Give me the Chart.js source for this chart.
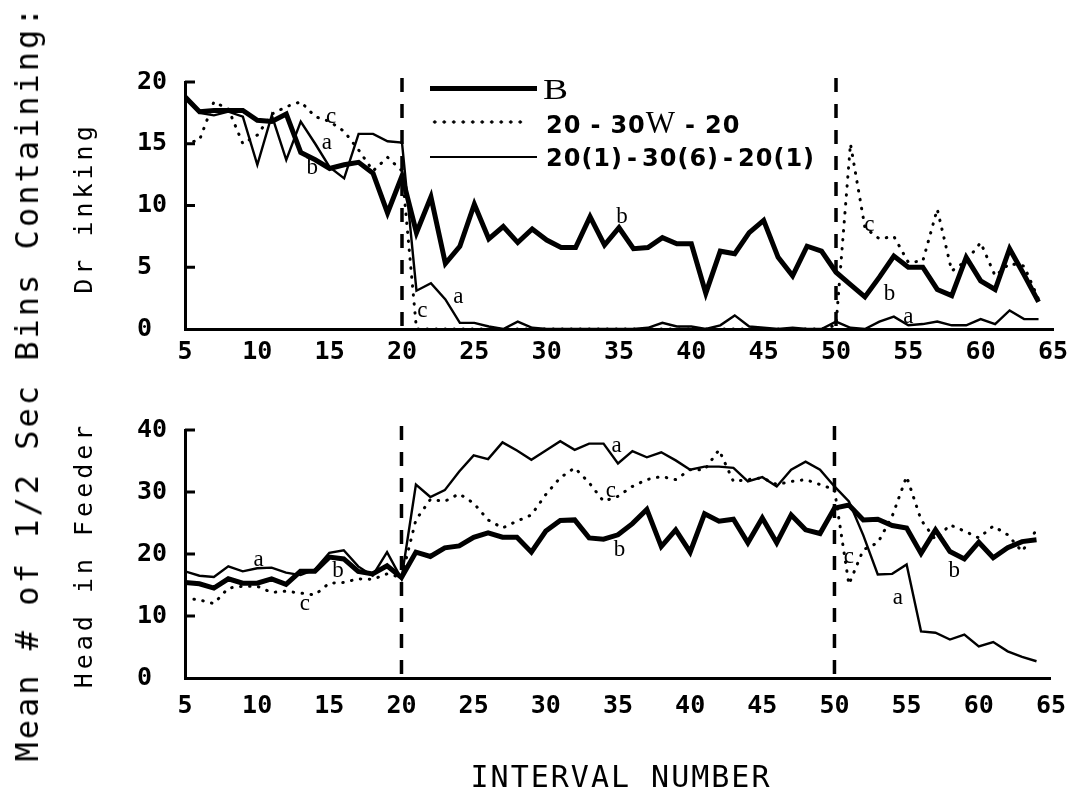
<!DOCTYPE html>
<html>
<head>
<meta charset="utf-8">
<script src="https://cdn.jsdelivr.net/npm/chart.js@4.4.1/dist/chart.umd.min.js"></script>
<style>
  body { margin: 0; background: #fff; }
  #wrap { position: relative; width: 1079px; height: 791px; overflow: hidden; background: #fff; }
  canvas { position: absolute; left: 0; }
  .rot {
    position: absolute; white-space: nowrap; color: #000;
    font-family: "DejaVu Sans Mono", monospace;
    transform: translate(-50%, -50%) rotate(-90deg);
  }
  .key { position: absolute; }
  .lab {
    position: absolute; white-space: nowrap; color: #000;
    font-family: "DejaVu Sans", sans-serif; font-weight: bold; font-size: 24px;
    transform: translateY(-50%); letter-spacing: 1px;
  }
  .lab .h { padding: 0 4px; }
  .lab .h2 { padding: 0 9px; }
  .lab .w { font-family: "Liberation Serif", serif; font-weight: normal; font-size: 31px; }
</style>
</head>
<body>
<div id="wrap">
  <canvas id="drink" width="1079" height="395" style="top:0"></canvas>
  <canvas id="feed" width="1079" height="396" style="top:395px"></canvas>

  <div class="rot" style="left:27px; top:383px; font-size:32px; letter-spacing:3px;">Mean # of 1/2 Sec Bins Containing:</div>
  <div class="rot" style="left:83px; top:208px; font-size:25px; letter-spacing:4px;">Dr inking</div>
  <div class="rot" style="left:83px; top:555px; font-size:25px; letter-spacing:4px;">Head in Feeder</div>
  <div style="position:absolute; left:621px; top:776px; transform:translate(-50%,-50%); font-family:'DejaVu Sans Mono',monospace; font-size:30px; letter-spacing:2px; white-space:nowrap;">INTERVAL NUMBER</div>

  <div class="key" style="left:430px; top:86px; width:107px; border-top:5px solid #000;"></div>
  <div class="lab" style="left:543px; top:89px; font-family:'Liberation Serif',serif; font-weight:normal; font-size:30px; transform:translateY(-50%) scaleX(1.25); transform-origin:left center;">B</div>
  <div class="key" style="left:430px; top:120px; width:96px; height:4px; background-image:radial-gradient(circle, #000 1.4px, transparent 1.9px); background-size:9.5px 4px;"></div>
  <div class="lab" style="left:546px; top:123px;">20<span class="h2">-</span>30<span class="w">W</span><span class="h2">-</span>20</div>
  <div class="key" style="left:430px; top:156px; width:107px; border-top:2.4px solid #000;"></div>
  <div class="lab" style="left:546px; top:158px;">20(1)<span class="h">-</span>30(6)<span class="h">-</span>20(1)</div>
</div>
<script>
// interval numbers on the x axis
const intervals = [5, 6, 7, 8, 9, 10, 11, 12, 13, 14, 15, 16, 17, 18, 19, 20,
  21, 22, 23, 24, 25, 26, 27, 28, 29, 30, 31, 32, 33, 34, 35, 36, 37, 38, 39, 40,
  41, 42, 43, 44, 45, 46, 47, 48, 49, 50, 51, 52, 53, 54, 55, 56, 57, 58, 59, 60,
  61, 62, 63, 64];

const seriesNames = ["B", "20-30W-20", "20(1)-30(6)-20(1)"];

// top panel: drinking
const drinkB = [18.8, 17.6, 17.7, 17.7, 17.7, 16.9, 16.8, 17.4, 14.3, 13.7, 13.0, 13.3, 13.5, 12.6, 9.4, 12.4,
  7.8, 10.7, 5.3, 6.7, 10.1, 7.3, 8.3, 7.0, 8.1, 7.2, 6.6, 6.6, 9.1, 6.8, 8.2, 6.5, 6.6, 7.4, 6.9, 6.9,
  2.9, 6.3, 6.1, 7.8, 8.8, 5.8, 4.3, 6.7, 6.3, 4.6, 3.6, 2.6, 4.2, 5.9, 5.0, 5.0, 3.2, 2.7, 5.8, 3.9,
  3.2, 6.5, 4.4, 2.2];
const drinkW = [15.0, 15.3, 18.4, 17.8, 15.0, 15.7, 17.4, 18.0, 18.4, 17.2, 16.8, 16.0, 14.5, 12.8, 13.9, 12.8,
  0, 0, 0, 0, 0, 0, 0, 0, 0, 0, 0, 0, 0, 0, 0, 0, 0, 0, 0, 0,
  0, 0, 0, 0, 0, 0, 0, 0, 0, 0.3, 15.0, 8.2, 7.3, 7.5, 5.4, 5.5, 9.7, 4.7, 5.5, 7.0,
  4.3, 5.3, 5.1, 2.4];
const drinkP = [18.8, 17.5, 17.3, 17.6, 17.2, 13.3, 17.3, 13.7, 16.8, 15.0, 13.1, 12.2, 15.8, 15.8, 15.2, 15.1,
  3.1, 3.7, 2.4, 0.5, 0.5, 0.2, 0.0, 0.6, 0.1, 0.0, 0.0, 0.0, 0.0, 0.0, 0.0, 0.0, 0.1, 0.5, 0.2, 0.2,
  0.0, 0.3, 1.1, 0.2, 0.1, 0.0, 0.1, 0.0, 0.0, 0.6, 0.1, 0.0, 0.6, 1.0, 0.3, 0.4, 0.6, 0.3, 0.3, 0.8,
  0.4, 1.5, 0.8, 0.8];

// bottom panel: head in feeder
const feedB = [15.4, 15.2, 14.5, 16.0, 15.3, 15.3, 16.0, 15.1, 17.2, 17.2, 19.5, 19.2, 17.2, 16.8, 18.1, 16.2,
  20.3, 19.6, 21.0, 21.3, 22.7, 23.4, 22.7, 22.7, 20.3, 23.7, 25.4, 25.5, 22.6, 22.4, 23.1, 24.9, 27.2, 21.2, 23.9, 20.3,
  26.5, 25.3, 25.6, 21.8, 25.8, 21.8, 26.3, 23.9, 23.3, 27.4, 27.9, 25.5, 25.6, 24.6, 24.2, 20.1, 23.9, 20.4, 19.2, 21.9,
  19.4, 21.0, 22.0, 22.3];
const feedW = [12.9, 12.6, 12.0, 14.5, 14.8, 14.8, 13.8, 14.0, 13.7, 13.4, 15.3, 15.4, 16.0, 15.9, 16.8, 16.2,
  25.5, 28.8, 28.5, 29.7, 28.2, 25.5, 24.2, 25.3, 26.3, 29.6, 32.3, 33.9, 31.5, 28.5, 29.3, 30.9, 32.0, 32.5, 32.0, 33.6,
  33.6, 36.8, 31.7, 32.0, 32.3, 31.2, 31.7, 32.0, 31.2, 30.4, 15.1, 20.7, 21.8, 26.1, 32.5, 25.5, 22.3, 24.7, 23.7, 22.6,
  24.5, 23.1, 20.4, 23.9];
const feedP = [17.2, 16.5, 16.3, 18.0, 17.2, 17.7, 17.8, 17.0, 16.6, 17.5, 20.2, 20.6, 18.0, 16.5, 20.3, 16.0,
  31.2, 29.2, 30.3, 33.3, 35.9, 35.3, 38.0, 36.7, 35.2, 36.7, 38.2, 36.8, 37.8, 37.8, 34.6, 36.6, 35.6, 36.4, 35.1, 33.6,
  34.1, 34.1, 33.9, 31.7, 32.4, 30.9, 33.6, 34.9, 33.6, 30.9, 28.5, 23.0, 16.7, 16.8, 18.3, 7.5, 7.3, 6.2, 7.0, 5.1,
  5.8, 4.3, 3.4, 2.7];

// axis ticks
const xTicks = [5, 10, 15, 20, 25, 30, 35, 40, 45, 50, 55, 60, 65];
const drinkTicks = [0, 5, 10, 15, 20];
const feedTicks = [0, 10, 20, 30, 40];
const phaseLines = [20, 50];

// curve letters (a = 20(1)-30(6)-20(1), b = B, c = 20-30W-20)
const drinkNotes = [
  { t: "c", x: 15.1, y: 17.2 }, { t: "a", x: 14.8, y: 15.1 }, { t: "b", x: 13.8, y: 13.0 },
  { t: "c", x: 21.4, y: 1.5 }, { t: "a", x: 23.9, y: 2.6 }, { t: "b", x: 35.2, y: 9.1 },
  { t: "c", x: 52.3, y: 8.4 }, { t: "b", x: 53.7, y: 2.8 }, { t: "a", x: 55.0, y: 1.0 },
];
const feedNotes = [
  { t: "a", x: 10.1, y: 19.1 }, { t: "b", x: 15.6, y: 17.2 }, { t: "c", x: 13.3, y: 12.0 },
  { t: "a", x: 34.9, y: 37.4 }, { t: "c", x: 34.5, y: 30.1 }, { t: "b", x: 35.1, y: 20.7 },
  { t: "c", x: 51.0, y: 19.6 }, { t: "a", x: 54.4, y: 12.9 }, { t: "b", x: 58.3, y: 17.2 },
];

function pts(values) {
  return values.map((v, i) => ({ x: intervals[i], y: v }));
}

const panelDecor = {
  id: "panelDecor",
  afterDatasetsDraw(chart, args, opts) {
    const ctx = chart.ctx;
    const area = chart.chartArea;
    const xs = chart.scales.x;
    const ys = chart.scales.y;
    ctx.save();
    // phase boundaries
    ctx.strokeStyle = "#000";
    ctx.lineWidth = 3.5;
    ctx.setLineDash([14, 12]);
    phaseLines.forEach((v) => {
      const px = xs.getPixelForValue(v);
      ctx.beginPath();
      ctx.moveTo(px, area.top - 4);
      ctx.lineTo(px, area.bottom);
      ctx.stroke();
    });
    ctx.setLineDash([]);
    // inward tick marks on the y axis
    ctx.lineWidth = 3;
    ys.ticks.forEach((t) => {
      if (t.value === 0) return;
      const py = ys.getPixelForValue(t.value);
      ctx.beginPath();
      ctx.moveTo(area.left, py);
      ctx.lineTo(area.left + 10, py);
      ctx.stroke();
    });
    // curve letters
    ctx.fillStyle = "#000";
    ctx.font = "23px 'Liberation Serif', serif";
    ctx.textAlign = "center";
    ctx.textBaseline = "middle";
    opts.notes.forEach((n) => {
      ctx.fillText(n.t, xs.getPixelForValue(n.x), ys.getPixelForValue(n.y));
    });
    ctx.restore();
  },
};

function makePanel(id, b, w, p, yTicks, notes, pad, xHeight, xPad) {
  new Chart(document.getElementById(id), {
    type: "line",
    data: {
      datasets: [
        {
          label: seriesNames[1], data: pts(w), borderColor: "#000", borderWidth: 3,
          borderDash: [0.5, 8.5], borderCapStyle: "round",
        },
        {
          label: seriesNames[2], data: pts(p), borderColor: "#000", borderWidth: 2.4,
        },
        {
          label: seriesNames[0], data: pts(b), borderColor: "#000", borderWidth: 5,
        },
      ],
    },
    options: {
      responsive: false,
      animation: false,
      devicePixelRatio: 1,
      layout: { padding: pad },
      elements: { point: { radius: 0 }, line: { tension: 0 } },
      plugins: {
        legend: { display: false },
        tooltip: { enabled: false },
        panelDecor: { notes: notes },
      },
      scales: {
        x: {
          type: "linear", min: 5, max: 65,
          afterBuildTicks: (s) => { s.ticks = xTicks.map((v) => ({ value: v })); },
          afterFit: (s) => { s.height = xHeight; },
          grid: { display: false, drawTicks: false },
          border: { display: true, width: 3, color: "#000" },
          ticks: {
            color: "#000", padding: xPad, maxRotation: 0, autoSkip: false,
            font: { family: "'DejaVu Sans Mono', monospace", size: 25, weight: "bold" },
          },
        },
        y: {
          min: 0, max: yTicks[yTicks.length - 1],
          afterBuildTicks: (s) => { s.ticks = yTicks.map((v) => ({ value: v })); },
          afterFit: (s) => { s.width = 48; },
          grid: { display: false, drawTicks: false },
          border: { display: true, width: 3, color: "#000" },
          ticks: {
            color: "#000", crossAlign: "far", padding: 10,
            font: { family: "'DejaVu Sans Mono', monospace", size: 25, weight: "bold" },
          },
        },
      },
    },
    plugins: [panelDecor],
  });
}

makePanel("drink", drinkB, drinkW, drinkP, drinkTicks, drinkNotes,
  { left: 137, top: 82, right: 26, bottom: 0 }, 66, 8);
makePanel("feed", feedB, feedW, feedP, feedTicks, feedNotes,
  { left: 137, top: 35, right: 26, bottom: 0 }, 113, 13);
</script>
</body>
</html>
